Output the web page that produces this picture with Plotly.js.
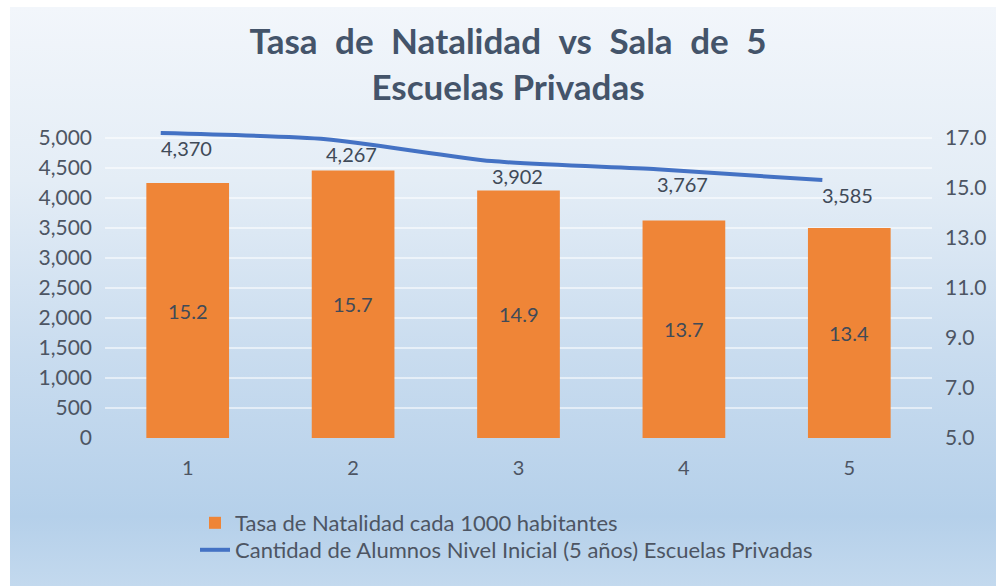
<!DOCTYPE html>
<html>
<head>
<meta charset="utf-8">
<script src="https://cdn.plot.ly/plotly-3.0.1.min.js"></script>
<style>
  html, body { margin: 0; padding: 0; background: #ffffff; }
  #wrap { position: relative; width: 996px; height: 586px; }
  #bg { position: absolute; left: 10px; top: 7px; right: 0; bottom: 0;
        background: linear-gradient(to bottom, #f2f6fb 0%, #e4edf6 30%, #c9dcef 60%, #b5d0ea 88%, #c3d9ee 100%); }
  #chart { position: absolute; left: 0; top: 0; width: 996px; height: 586px; }
</style>
</head>
<body>
<div id="wrap">
  <div id="bg"></div>
  <div id="chart"></div>
</div>
<script>
const categories = [1, 2, 3, 4, 5];
const tasaNatalidad = [15.2, 15.7, 14.9, 13.7, 13.4];
const alumnos = [4370, 4267, 3902, 3767, 3585];
const leftTicks = [0, 500, 1000, 1500, 2000, 2500, 3000, 3500, 4000, 4500, 5000];
const rightTicks = [5, 7, 9, 11, 13, 15, 17];

const fontFam = 'Lato, "Open Sans", sans-serif';
const textCol = '#4d5563';
const labelCol = '#404a58';
const EN = '\u2002';

const barTrace = {
  type: 'bar',
  x: categories,
  y: tasaNatalidad,
  yaxis: 'y2',
  name: 'Tasa de Natalidad cada 1000 habitantes',
  marker: { color: '#ef8537' },
  textposition: 'none',
  legend: 'legend',
  hoverinfo: 'x+y'
};

const lineTrace = {
  type: 'scatter',
  mode: 'lines',
  x: categories,
  y: alumnos,
  xaxis: 'x2',
  yaxis: 'y3',
  name: 'Cantidad de Alumnos Nivel Inicial (5 años) Escuelas Privadas',
  line: { color: '#4472c4', width: 4, shape: 'spline', smoothing: 0.6 },
  legend: 'legend2'
};

const helper = {
  type: 'scatter', x: [1], y: [0], mode: 'markers',
  marker: { opacity: 0 }, showlegend: false, hoverinfo: 'skip'
};

const annotations = [];
categories.forEach((c, i) => {
  annotations.push({
    xref: 'x', yref: 'y2', x: c, y: (5 + tasaNatalidad[i]) / 2,
    text: tasaNatalidad[i].toFixed(1), showarrow: false,
    font: { family: fontFam, size: 20, color: labelCol }
  });
  annotations.push({
    xref: 'x2', yref: 'y3', x: c, y: alumnos[i],
    text: alumnos[i].toLocaleString('en-US'), showarrow: false,
    xanchor: 'left', yanchor: 'top', yshift: -1, xshift: -2,
    font: { family: fontFam, size: 20, color: labelCol }
  });
});

const legendBase = {
  orientation: 'v',
  xref: 'paper', x: (195 - 105) / 827, xanchor: 'left',
  yref: 'paper', yanchor: 'middle',
  bgcolor: 'rgba(0,0,0,0)',
  font: { family: fontFam, size: 22, color: textCol }
};

// plot area: x 105..932, y 118..438 (320 px)
const layout = {
  width: 996,
  height: 586,
  paper_bgcolor: 'rgba(0,0,0,0)',
  plot_bgcolor: 'rgba(0,0,0,0)',
  margin: { l: 105, r: 64, t: 118, b: 148, autoexpand: false },
  font: { family: fontFam, color: textCol },
  title: {
    text: ['Tasa', 'de', 'Natalidad', 'vs', 'Sala', 'de', '5'].join(EN) + '<br>' + 'Escuelas Privadas',
    font: { family: fontFam, size: 35, weight: 'bold', color: '#44546a' },
    xref: 'container', x: 508 / 996, xanchor: 'center',
    yref: 'container', y: 1 - 54 / 586, yanchor: 'middle'
  },
  bargap: 0.5,
  showlegend: true,
  legend: Object.assign({}, legendBase, { y: (438 - 523) / 320 }),
  legend2: Object.assign({}, legendBase, { y: (438 - 550) / 320 }),
  annotations: annotations,
  xaxis: {
    range: [0.5, 5.5],
    tickvals: categories,
    ticktext: categories.map(String),
    showgrid: false,
    zeroline: false,
    showline: false,
    ticks: '',
    ticklabelstandoff: 16,
    tickfont: { family: fontFam, size: 20, color: textCol }
  },
  xaxis2: {
    overlaying: 'x',
    range: [0.663, 5.663],
    visible: false
  },
  yaxis: {
    range: [0, 5000 * 320 / 300],
    tickvals: leftTicks,
    ticktext: leftTicks.map(v => v.toLocaleString('en-US')),
    showgrid: true,
    gridcolor: 'rgba(255,255,255,0.55)',
    gridwidth: 2,
    zeroline: false,
    showline: false,
    ticks: '',
    ticklabelstandoff: 12,
    tickfont: { family: fontFam, size: 21, color: textCol }
  },
  yaxis2: {
    overlaying: 'y',
    side: 'right',
    range: [5, 5 + 12 * 320 / 300],
    tickvals: rightTicks,
    ticktext: rightTicks.map(v => v.toFixed(1)),
    showgrid: false,
    zeroline: false,
    showline: false,
    ticks: '',
    ticklabelstandoff: 12,
    tickfont: { family: fontFam, size: 21, color: textCol }
  },
  yaxis3: {
    overlaying: 'y',
    range: [-713, -713 + 5000 * 320 / 300],
    visible: false
  }
};

Plotly.newPlot('chart', [helper, barTrace, lineTrace], layout, { displayModeBar: false, responsive: false });
</script>
</body>
</html>
